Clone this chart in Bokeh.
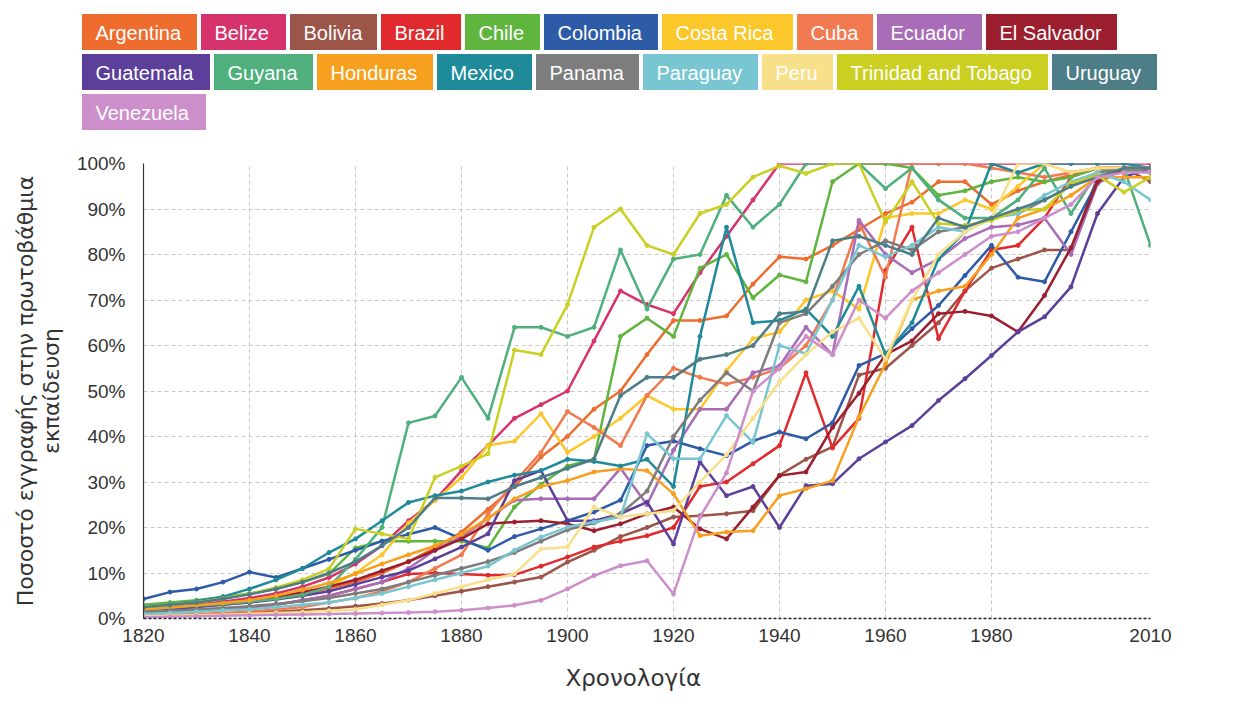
from bokeh.plotting import figure
from bokeh.models import Range1d, FixedTicker, PrintfTickFormatter, Title
from bokeh.layouts import column
from bokeh.embed import file_html
from bokeh.resources import INLINE
from bokeh.core.properties import value

FONT = "Liberation Sans"
TITLE_FONT = "DejaVu Sans"

years = list(range(1820, 2011, 5))

countries = ["Argentina", "Belize", "Bolivia", "Brazil", "Chile", "Colombia",
             "Costa Rica", "Cuba", "Ecuador", "El Salvador", "Guatemala", "Guyana",
             "Honduras", "Mexico", "Panama", "Paraguay", "Peru",
             "Trinidad and Tobago", "Uruguay", "Venezuela"]

colors = ["#ee6c2d", "#d6336c", "#9c5549", "#e02a2e", "#60b53f", "#2e5ba8",
          "#fbc72b", "#f27a50", "#a96cb6", "#9b1f2e", "#5c3f9a", "#4fb07d",
          "#f7a01f", "#1f8a99", "#7d7d7d", "#78c6d2", "#f8e08a",
          "#cacf22", "#4d7e88", "#cd8fcb"]

argentina = [2.0, 2.4, 2.8, 3.3, 3.9, 4.6, 5.5, 6.6, 8.0, 10.0, 12.5, 15.5, 19.0, 24.0, 29.0, 35.5, 40.0,
             46.0, 50.0, 58.0, 65.5, 65.5, 66.5, 73.5, 79.5, 79.0, 82.0, 85.5, 89.0, 91.5, 96.0, 96.0, 91.0,
             94.0, 96.0, 97.5, 99.0, 99.0, 99.0]
belize = [2.0, 2.5, 3.0, 3.7, 4.5, 5.5, 7.0, 9.0, 12.0, 16.0, 21.5, 26.0, 32.5, 38.0, 44.0, 47.0, 50.0,
          61.0, 72.0, 69.0, 67.0, 76.0, 84.0, 92.0, 100, 100, 100, 100, 100, 100, 100, 100, 100,
          100, 100, 100, 100, 100, 100]
bolivia = [0.5, 0.6, 0.8, 1.0, 1.2, 1.5, 1.8, 2.2, 2.7, 3.3, 4.0, 5.0, 6.0, 7.0, 8.0, 9.1, 12.4,
           15.0, 18.0, 20.0, 22.3, 22.6, 23.0, 23.7, 31.5, 35.0, 37.7, 53.5, 55.0, 60.0, 65.0, 72.0, 77.0,
           79.0, 81.0, 81.0, 97.0, 99.0, 96.0]
brazil = [1.0, 1.3, 1.6, 2.0, 2.5, 3.0, 4.0, 5.0, 6.5, 8.0, 9.8, 10.0, 9.8, 9.5, 9.6, 11.5, 13.5,
          15.7, 17.0, 18.2, 20.0, 29.0, 30.0, 34.0, 38.0, 54.0, 37.5, 44.0, 76.5, 86.0, 61.5, 72.0, 81.0,
          82.0, 88.0, 97.0, 99.0, 99.0, 98.0]
chile = [3.0, 3.5, 4.0, 4.7, 5.5, 6.5, 8.0, 9.8, 15.5, 17.0, 17.0, 17.0, 17.0, 15.5, 24.5, 29.5, 33.5,
         35.0, 62.0, 66.0, 62.0, 77.0, 80.0, 70.5, 75.5, 74.0, 96.0, 100, 100, 99.0, 93.0, 94.0, 96.0,
         97.0, 96.0, 97.0, 99.0, 98.0, 99.0]
colombia = [4.3, 5.8, 6.5, 8.0, 10.2, 9.0, 11.0, 13.0, 15.0, 17.0, 18.5, 20.0, 17.5, 15.0, 18.0, 19.7, 21.5,
            23.4, 26.0, 38.0, 39.0, 37.3, 35.8, 39.0, 41.0, 39.5, 43.0, 55.6, 58.2, 63.7, 68.8, 75.4, 82.0,
            75.0, 74.0, 85.0, 96.0, 99.0, 99.0]
costa_rica = [1.5, 2.0, 2.5, 3.0, 3.6, 4.4, 5.5, 7.0, 10.0, 14.0, 21.0, 26.0, 31.0, 38.0, 39.0, 45.0, 36.5,
              40.0, 44.0, 49.0, 46.0, 46.0, 54.5, 61.5, 63.0, 70.0, 72.0, 68.0, 88.0, 89.0, 89.0, 92.0, 90.0,
              95.0, 100, 98.0, 99.0, 99.0, 99.0]
cuba = [0.5, 0.7, 1.0, 1.2, 1.5, 2.0, 2.5, 3.5, 4.5, 6.0, 8.0, 11.0, 14.0, 23.0, 30.0, 36.5, 45.5,
        42.0, 38.0, 49.0, 55.0, 53.0, 51.5, 53.0, 55.0, 60.0, 70.0, 87.0, 75.0, 100, 100, 100, 99.0,
        98.0, 97.0, 98.0, 99.0, 99.0, 99.0]
ecuador = [1.0, 1.3, 1.6, 2.0, 2.5, 3.0, 4.0, 5.0, 6.5, 8.0, 11.0, 15.0, 18.0, 22.0, 26.0, 26.3, 26.3,
           26.3, 33.0, 25.0, 37.0, 46.0, 46.0, 54.0, 55.5, 64.0, 58.0, 87.5, 80.0, 76.0, 79.0, 83.5, 86.0,
           86.5, 88.0, 80.0, 95.5, 99.0, 99.0]
el_salvador = [2.0, 2.3, 2.8, 3.3, 4.0, 4.8, 5.8, 7.0, 8.5, 10.5, 12.5, 15.0, 17.5, 20.8, 21.2, 21.5, 20.8,
               19.3, 20.8, 23.0, 24.5, 19.7, 17.5, 24.5, 31.4, 32.2, 42.0, 49.5, 58.0, 61.0, 67.0, 67.5, 66.5,
               63.0, 71.0, 81.5, 96.0, 99.0, 99.0]
guatemala = [1.5, 2.0, 2.5, 3.0, 3.5, 4.2, 5.0, 6.0, 7.5, 9.1, 10.5, 13.1, 15.7, 18.6, 30.3, 32.5, 21.5,
             21.5, 23.0, 25.6, 16.4, 34.4, 27.0, 29.0, 20.0, 29.2, 29.6, 35.1, 38.8, 42.4, 47.9, 52.7, 57.8,
             63.0, 66.3, 72.9, 89.0, 97.0, 99.0]
guyana = [2.0, 2.4, 2.8, 3.2, 3.7, 4.3, 5.2, 7.0, 13.0, 20.0, 43.0, 44.5, 53.0, 44.0, 64.0, 64.0, 62.0,
          64.0, 81.0, 68.0, 79.0, 80.0, 93.0, 86.0, 91.0, 100, 100, 100, 94.5, 99.0, 92.0, 88.0, 88.0,
          92.0, 99.0, 89.0, 98.0, 99.0, 82.0]
honduras = [2.0, 2.4, 2.9, 3.4, 4.0, 5.0, 6.3, 7.8, 9.8, 12.0, 14.0, 16.0, 18.5, 22.0, 26.3, 29.0, 30.3,
            32.2, 32.9, 32.5, 27.4, 18.2, 19.0, 19.3, 27.0, 28.5, 30.3, 44.3, 56.0, 70.0, 72.0, 73.0, 80.0,
            88.0, 90.0, 93.0, 97.0, 97.0, 97.0]
mexico = [2.5, 3.0, 3.8, 4.8, 6.5, 8.5, 11.0, 14.5, 17.5, 21.5, 25.5, 27.0, 28.0, 30.0, 31.5, 32.5, 35.0,
          34.5, 33.5, 35.0, 29.0, 62.0, 86.0, 65.0, 65.5, 68.0, 62.0, 73.0, 58.0, 65.0, 79.0, 85.0, 100,
          98.0, 100, 100, 100, 100, 99.0]
panama = [1.5, 1.7, 2.0, 2.3, 2.7, 3.2, 3.8, 4.5, 5.5, 6.5, 8.0, 9.5, 11.0, 12.5, 14.5, 17.0, 19.5,
          21.0, 23.0, 28.0, 40.0, 48.0, 54.0, 50.0, 65.0, 67.0, 73.0, 80.0, 83.0, 81.0, 85.0, 86.0, 88.0,
          89.0, 92.0, 95.0, 98.0, 99.0, 98.0]
paraguay = [1.0, 1.2, 1.5, 1.8, 2.0, 2.5, 3.0, 3.5, 4.5, 5.5, 7.0, 8.5, 10.0, 11.5, 15.0, 17.9, 20.1,
            21.2, 22.3, 40.6, 35.1, 35.1, 44.6, 38.7, 60.0, 58.2, 70.0, 82.0, 79.5, 82.0, 86.0, 85.0, 88.0,
            89.0, 93.0, 96.0, 98.0, 96.0, 92.0]
peru = [0.5, 0.6, 0.7, 0.8, 1.0, 1.2, 1.4, 1.7, 2.0, 3.0, 4.0, 5.5, 7.0, 8.5, 9.8, 15.3, 15.7,
        24.5, 22.3, 23.0, 23.7, 30.0, 36.0, 44.0, 52.0, 58.0, 63.0, 66.0, 57.0, 70.0, 80.0, 85.0, 88.0,
        100, 100, 98.0, 99.0, 99.0, 99.0]
trinidad = [2.5, 3.0, 3.6, 4.4, 5.4, 6.8, 8.5, 10.9, 19.7, 18.6, 17.5, 31.0, 33.5, 36.2, 59.0, 58.0, 69.0,
            86.0, 90.0, 82.0, 80.0, 89.0, 91.0, 97.0, 99.5, 97.8, 100, 100, 87.1, 96.0, 86.8, 86.4, 87.5,
            89.7, 90.0, 95.6, 97.4, 93.7, 97.0]
uruguay = [2.5, 3.0, 3.5, 4.3, 5.3, 6.5, 8.0, 10.0, 12.5, 16.0, 20.0, 26.5, 26.5, 26.3, 29.0, 31.0, 33.0,
           35.0, 49.0, 53.0, 53.0, 57.0, 58.0, 60.0, 67.0, 67.5, 83.0, 84.0, 82.0, 80.0, 88.0, 86.0, 88.0,
           90.0, 92.0, 95.0, 97.0, 99.0, 99.0]
venezuela = [0.3, 0.4, 0.5, 0.6, 0.7, 0.8, 0.9, 1.0, 1.1, 1.2, 1.3, 1.5, 1.8, 2.3, 2.9, 4.0, 6.5,
             9.4, 11.6, 12.7, 5.4, 22.3, 32.0, 50.0, 55.0, 62.0, 58.0, 70.0, 66.0, 72.0, 76.0, 80.0, 84.0,
             85.0, 88.0, 91.0, 97.0, 98.0, 98.0]

series = [argentina, belize, bolivia, brazil, chile, colombia, costa_rica, cuba, ecuador,
          el_salvador, guatemala, guyana, honduras, mexico, panama, paraguay, peru,
          trinidad, uruguay, venezuela]

x_ticks = [1820, 1840, 1860, 1880, 1900, 1920, 1940, 1960, 1980, 2010]
y_ticks = [0, 10, 20, 30, 40, 50, 60, 70, 80, 90, 100]

PAGE_W = 1225

# ---------------- legend (coloured boxes) ----------------
box_widths = [116, 86, 88, 81, 76, 115, 132, 77, 106, 132,
              129, 100, 117, 96, 104, 116, 72, 212, 106,
              125]
row_starts = [0, 10, 19]
row_tops = [13, 53, 93]
box_h = 37
gap = 3
left0 = 81

lefts, rights, tops, bottoms = [], [], [], []
cur = left0
for i, w in enumerate(box_widths):
    r = max(k for k, s in enumerate(row_starts) if i >= s)
    if i == row_starts[r]:
        cur = left0
    lefts.append(cur)
    rights.append(cur + w)
    tops.append(row_tops[r])
    bottoms.append(row_tops[r] + box_h)
    cur = cur + w + gap

LEG_H = 135
leg = figure(frame_width=PAGE_W, frame_height=LEG_H, x_range=Range1d(0, PAGE_W),
             y_range=Range1d(LEG_H, 0), output_backend="svg", toolbar_location=None,
             min_border=0, x_axis_type=None, y_axis_type=None)
leg.grid.visible = False
leg.outline_line_color = None
leg.title.visible = False
leg.quad(left=lefts, right=rights, top=tops, bottom=bottoms, fill_color=colors,
         line_color="white", line_width=1)
leg.text(x=[l + 14 for l in lefts], y=[t + box_h / 2 + 1 for t in tops], text=countries,
         text_color="white", text_font_size="20px", text_font=value(FONT),
         text_baseline="middle", text_align="left")

# ---------------- main chart ----------------
FRAME_L, FRAME_T = 143, 163
FRAME_W, FRAME_H = 1007, 455
p = figure(frame_width=FRAME_W, frame_height=FRAME_H,
           x_range=Range1d(1820, 2010), y_range=Range1d(0, 100),
           output_backend="svg", toolbar_location=None,
           min_border_left=FRAME_L, min_border_right=PAGE_W - FRAME_L - FRAME_W,
           min_border_top=FRAME_T - LEG_H, min_border_bottom=82)
p.title.visible = False
p.outline_line_color = None
p.background_fill_color = "white"

for f in (leg, p):
    if "frame_align" in f.properties():
        f.frame_align = False

p.xaxis.ticker = FixedTicker(ticks=x_ticks)
p.yaxis.ticker = FixedTicker(ticks=y_ticks)
p.yaxis.formatter = PrintfTickFormatter(format="%d%%")

for ax in (p.xaxis[0], p.yaxis[0]):
    ax.major_tick_line_color = None
    ax.minor_tick_line_color = None
    ax.major_label_text_font = FONT
    ax.major_label_text_font_size = "19px"
    ax.major_label_text_color = "#333333"

p.xaxis.axis_line_color = "#222222"
p.xaxis.axis_line_dash = "3 2"
p.xaxis.axis_line_width = 1.5
p.xaxis.major_label_standoff = 4
p.yaxis.axis_line_color = "#333333"
p.yaxis.axis_line_width = 1.2
p.yaxis.major_label_standoff = 12

# y-axis title on two centred lines
p.yaxis.axis_label = "Ποσοστό εγγραφής στην πρωτοβάθμια\nεκπαίδευση"
p.yaxis.axis_label_text_font = TITLE_FONT
p.yaxis.axis_label_text_font_size = "22px"
p.yaxis.axis_label_text_font_style = "normal"
p.yaxis.axis_label_text_color = "#333333"
p.yaxis.axis_label_text_line_height = 1.05
p.yaxis.axis_label_standoff = 10

# x-axis title, placed slightly left of centre as in the original
xt = Title(text="Χρονολογία", align="left", offset=422, text_font=TITLE_FONT,
           text_font_size="23px", text_font_style="normal", text_color="#333333", standoff=36)
p.add_layout(xt, "below")

p.xgrid.grid_line_color = "#c8c8c8"
p.xgrid.grid_line_dash = "4 3"
p.ygrid.grid_line_color = "#c8c8c8"
p.ygrid.grid_line_dash = "4 3"

for vals, col in zip(series, colors):
    p.line(years, vals, line_color=col, line_width=2.5)
    p.scatter(years, vals, size=4, fill_color=col, line_color=col)

layout = column(leg, p, spacing=0)
open("out.html", "w").write(file_html(layout, INLINE))
